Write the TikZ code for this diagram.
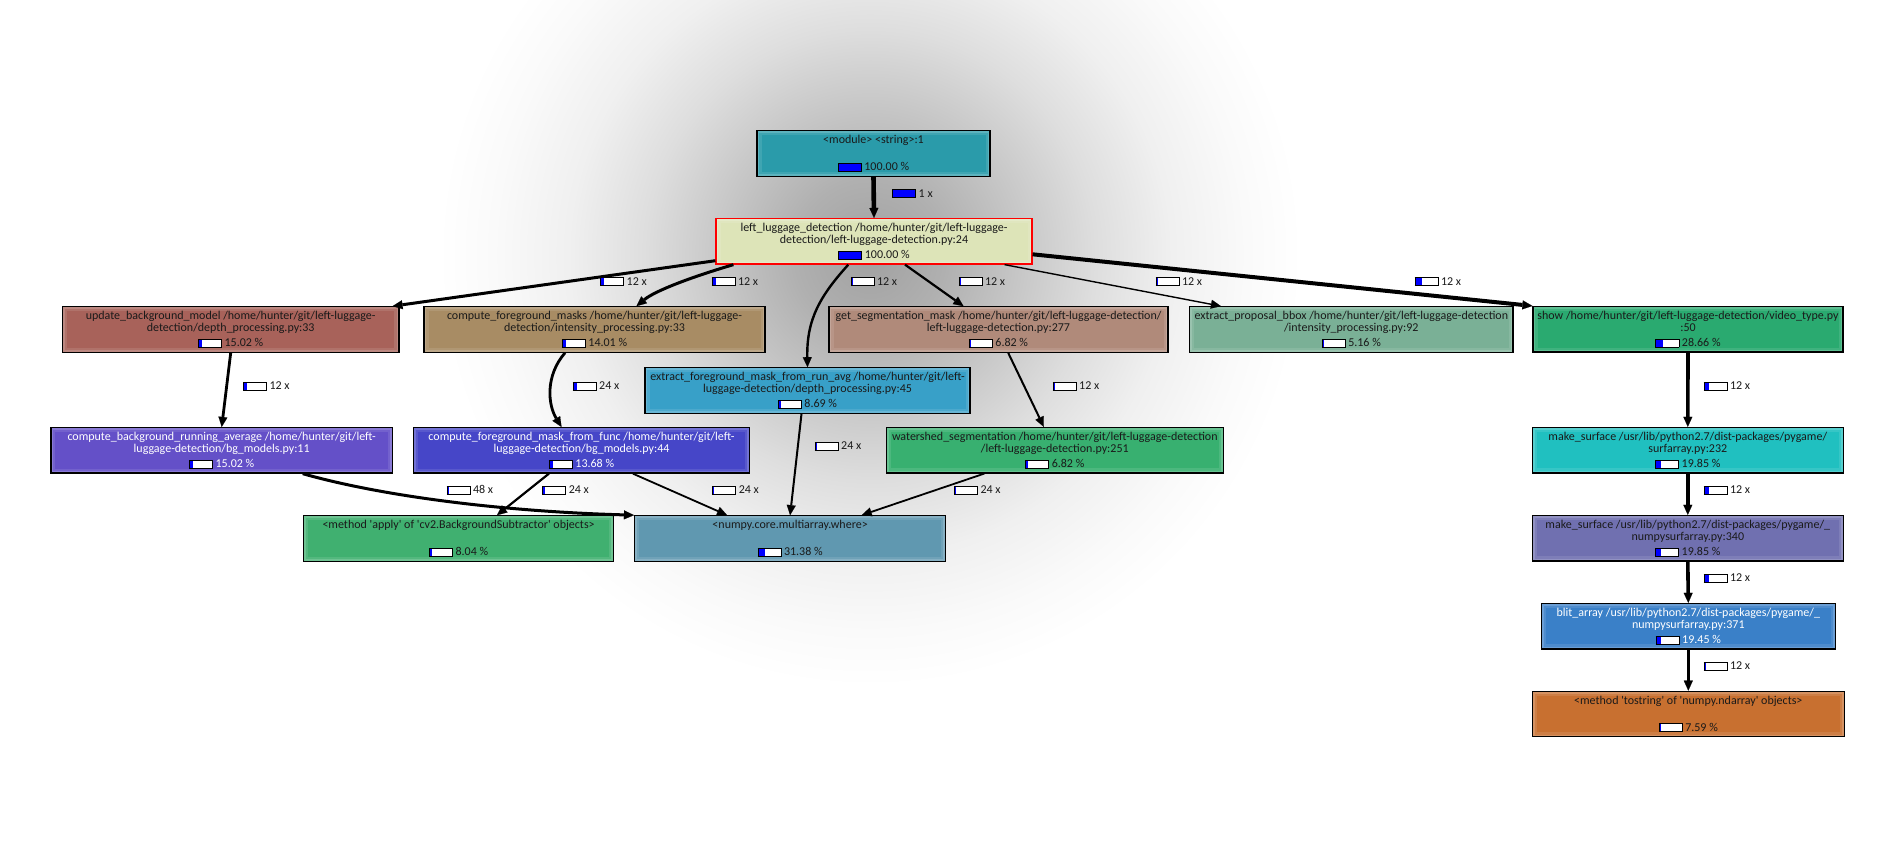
\documentclass[tikz,border=0pt]{standalone}
\usepackage{fontspec}
\setmainfont{Carlito}
\usetikzlibrary{arrows.meta}
\colorlet{vgA}{black!37}
\colorlet{vgB}{black!31}
\colorlet{vgC}{black!22}
\colorlet{vgD}{black!13}
\colorlet{vgE}{black!6}
\colorlet{vgF}{black!2}
\pgfdeclareradialshading{vign}{\pgfpoint{0bp}{0bp}}{color(0bp)=(vgA); color(4bp)=(vgB); color(8bp)=(vgC); color(12bp)=(vgD); color(16bp)=(vgE); color(20bp)=(vgF); color(23bp)=(white); color(50bp)=(white)}
\definecolor{cModule}{HTML}{2A9BAA}
\definecolor{cLLD}{HTML}{DDE4B8}
\definecolor{cUBM}{HTML}{A8625A}
\definecolor{cCFM}{HTML}{A88C64}
\definecolor{cGSM}{HTML}{B08A7A}
\definecolor{cEPB}{HTML}{7AB096}
\definecolor{cShow}{HTML}{2AAA70}
\definecolor{cEFM}{HTML}{38A0C8}
\definecolor{cCBRA}{HTML}{6450C8}
\definecolor{cCFMFF}{HTML}{4646C8}
\definecolor{cWS}{HTML}{38B070}
\definecolor{cMSa}{HTML}{20C0C0}
\definecolor{cApply}{HTML}{40B070}
\definecolor{cWhere}{HTML}{6098B0}
\definecolor{cMSb}{HTML}{7070B0}
\definecolor{cBlit}{HTML}{3A80C8}
\definecolor{cTostr}{HTML}{C87030}
\definecolor{barblue}{HTML}{0000FF}
\definecolor{txt}{HTML}{1A1A1A}
\newcommand\pbar[1]{{\setlength{\fboxsep}{0pt}\setlength{\fboxrule}{0.9pt}\fcolorbox{black}{white}{\makebox[22.2pt][l]{\textcolor{barblue}{\rule{#1pt}{7pt}}}}}}
\newcommand\pct[2]{\pbar{#1}\hspace{2.5pt}#2~\%}
\newcommand\cnt[2]{\pbar{#1}\hspace{2.5pt}#2~x}
\tikzset{
  fn/.style={draw=black, line width=1.2pt, minimum height=45.5pt, inner sep=0pt, align=center,
    font=\fontsize{12}{12.3}\selectfont, text=txt,
    path picture={
      \draw[white, opacity=0.10, line width=9pt] (path picture bounding box.south west) rectangle (path picture bounding box.north east);
      \draw[white, opacity=0.16, line width=4.5pt] (path picture bounding box.south west) rectangle (path picture bounding box.north east);
    }},
  el/.style={anchor=base west, inner sep=0pt, font=\fontsize{12}{12.3}\selectfont, text=txt},
  ed/.style={draw=black, -{Triangle[length=10pt,width=9pt,line width=0.1pt]}},
}
\begin{document}
\begin{tikzpicture}[x=1pt,y=-1pt]
\useasboundingbox (0,0) rectangle (1895,867);
\fill[white] (0,0) rectangle (1895,867);
\path[shading=vign] (870,255) ellipse [x radius=470, y radius=470];
% nodes
\node[fn, fill=cModule, minimum width=233pt] (module) at (873.5,153.5) {<module> <string>:1\\ \strut\\[2.7pt]\pct{22.2}{100.00}};
\node[fn, fill=cLLD, draw=red, minimum width=316pt] (lld) at (874,241.3) {left\_luggage\_detection /home/hunter/git/left-luggage-\\detection/left-luggage-detection.py:24\\[2.7pt]\pct{22.2}{100.00}};
\node[fn, fill=cUBM, minimum width=336.5pt] (ubm) at (230.7,329.5) {update\_background\_model /home/hunter/git/left-luggage-\\detection/depth\_processing.py:33\\[2.7pt]\pct{3.36}{15.02}};
\node[fn, fill=cCFM, minimum width=341pt] (cfm) at (594.5,329.5) {compute\_foreground\_masks /home/hunter/git/left-luggage-\\detection/intensity\_processing.py:33\\[2.7pt]\pct{3.14}{14.01}};
\node[fn, fill=cGSM, minimum width=339pt] (gsm) at (998.5,329.5) {get\_segmentation\_mask /home/hunter/git/left-luggage-detection/\\left-luggage-detection.py:277\\[2.7pt]\pct{1.53}{6.82}};
\node[fn, fill=cEPB, minimum width=323.5pt] (epb) at (1351.3,329.5) {extract\_proposal\_bbox /home/hunter/git/left-luggage-detection\\/intensity\_processing.py:92\\[2.7pt]\pct{1.16}{5.16}};
\node[fn, fill=cShow, minimum width=310pt] (show) at (1688,329.3) {show /home/hunter/git/left-luggage-detection/video\_type.py\\:50\\[2.7pt]\pct{6.42}{28.66}};
\node[fn, fill=cEFM, minimum width=325pt] (efm) at (807.5,390.5) {extract\_foreground\_mask\_from\_run\_avg /home/hunter/git/left-\\luggage-detection/depth\_processing.py:45\\[2.7pt]\pct{1.95}{8.69}};
\node[fn, fill=cCBRA, text=white, minimum width=341.5pt] (cbra) at (221.7,450.3) {compute\_background\_running\_average /home/hunter/git/left-\\luggage-detection/bg\_models.py:11\\[2.7pt]\pct{3.36}{15.02}};
\node[fn, fill=cCFMFF, text=white, minimum width=336pt] (cfmff) at (581.5,450.3) {compute\_foreground\_mask\_from\_func /home/hunter/git/left-\\luggage-detection/bg\_models.py:44\\[2.7pt]\pct{3.06}{13.68}};
\node[fn, fill=cWS, minimum width=336.8pt] (ws) at (1054.8,450.2) {watershed\_segmentation /home/hunter/git/left-luggage-detection\\/left-luggage-detection.py:251\\[2.7pt]\pct{1.53}{6.82}};
\node[fn, fill=cMSa, minimum width=311pt] (msa) at (1687.8,450.2) {make\_surface /usr/lib/python2.7/dist-packages/pygame/\\surfarray.py:232\\[2.7pt]\pct{4.45}{19.85}};
\node[fn, fill=cApply, minimum width=310pt] (apply) at (458.6,538.5) {<method \textquotesingle apply\textquotesingle{} of \textquotesingle cv2.BackgroundSubtractor\textquotesingle{} objects>\\ \strut\\[2.7pt]\pct{1.8}{8.04}};
\node[fn, fill=cWhere, minimum width=311pt] (where) at (790.1,538.5) {<numpy.core.multiarray.where>\\ \strut\\[2.7pt]\pct{7.03}{31.38}};
\node[fn, fill=cMSb, minimum width=311pt] (msb) at (1687.8,538.2) {make\_surface /usr/lib/python2.7/dist-packages/pygame/\_\\numpysurfarray.py:340\\[2.7pt]\pct{4.45}{19.85}};
\node[fn, fill=cBlit, text=white, minimum width=294pt] (blit) at (1688.3,626.2) {blit\_array /usr/lib/python2.7/dist-packages/pygame/\_\\numpysurfarray.py:371\\[2.7pt]\pct{4.36}{19.45}};
\node[fn, fill=cTostr, minimum width=312pt] (tostr) at (1688.3,714) {<method \textquotesingle tostring\textquotesingle{} of \textquotesingle numpy.ndarray\textquotesingle{} objects>\\ \strut\\[2.7pt]\pct{1.7}{7.59}};
% edges
\draw[ed, line width=4.6pt] (module.south) -- (lld.north);
\draw[ed, line width=3pt] ([yshift=-19.4pt]lld.west) -- ([xshift=-7pt]ubm.north east);
\draw[ed, line width=3pt] ([xshift=18pt]lld.south west) .. controls +(-44,13) and +(18,-15) .. ([xshift=42pt]cfm.north);
\draw[ed, line width=2.4pt] ([xshift=-25.7pt]lld.south) .. controls +(-28,31) and +(-1,-48) .. (efm.north);
\draw[ed, line width=2.2pt] ([xshift=31pt]lld.south) -- ([xshift=-35pt]gsm.north);
\draw[ed, line width=1.4pt] ([xshift=-28pt]lld.south east) -- ([xshift=32pt]epb.north west);
\draw[ed, line width=4pt] ([yshift=-13pt]lld.east) -- (show.north west);
\draw[ed, line width=2.8pt] (ubm.south) -- (cbra.north);
\draw[ed, line width=2.8pt] ([xshift=-29.5pt]cfm.south) .. controls +(-20,23) and +(-13.5,-22) .. ([xshift=-20pt]cfmff.north);
\draw[ed, line width=2pt] ([xshift=9.7pt]gsm.south) -- ([xshift=-11pt]ws.north);
\draw[ed, line width=2pt] ([xshift=-6pt]efm.south) -- (where.north);
\draw[ed, line width=3pt] ([xshift=81pt]cbra.south) .. controls +(77.3,22) and +(-134.5,-3.7) .. (where.north west);
\draw[ed, line width=2.2pt] ([xshift=-32.6pt]cfmff.south) -- ([xshift=38.4pt]apply.north);
\draw[ed, line width=1.8pt] ([xshift=51.4pt]cfmff.south) -- ([xshift=-63pt]where.north);
\draw[ed, line width=1.8pt] ([xshift=-70.4pt]ws.south) -- ([xshift=71.6pt]where.north);
\draw[ed, line width=3.6pt] (show.south) -- (msa.north);
\draw[ed, line width=3.6pt] (msa.south) -- (msb.north);
\draw[ed, line width=3.6pt] (msb.south) -- (blit.north);
\draw[ed, line width=2.6pt] (blit.south) -- (tostr.north);
% edge labels
\node[el] (l1) at (892,197) {\cnt{22.2}{1}};
\node[el] (l2) at (600,285.3) {\cnt{3.36}{12}};
\node[el] (l3) at (711.3,285.3) {\cnt{3.14}{12}};
\node[el] (l4) at (850.3,285.3) {\cnt{1.95}{12}};
\node[el] (l5) at (958.3,285.3) {\cnt{1.53}{12}};
\node[el] (l6) at (1155.4,285.3) {\cnt{1.16}{12}};
\node[el] (l7) at (1414.3,285.3) {\cnt{6.42}{12}};
\node[el] (l8) at (242.9,389.8) {\cnt{3.36}{12}};
\node[el] (l9) at (572.5,389.8) {\cnt{3.06}{24}};
\node[el] (l10) at (1052.5,389.8) {\cnt{1.53}{12}};
\node[el] (l11) at (1703.3,389.8) {\cnt{4.45}{12}};
\node[el] (l12) at (814.5,449.5) {\cnt{1.2}{24}};
\node[el] (l13) at (446.4,493.8) {\cnt{1.8}{48}};
\node[el] (l14) at (542.1,493.8) {\cnt{1.5}{24}};
\node[el] (l15) at (712.1,493.8) {\cnt{0.5}{24}};
\node[el] (l16) at (953.8,493.8) {\cnt{0.5}{24}};
\node[el] (l17) at (1703.3,493.8) {\cnt{4.45}{12}};
\node[el] (l18) at (1703.3,581.8) {\cnt{4.36}{12}};
\node[el] (l19) at (1703.3,669.8) {\cnt{1.7}{12}};
\end{tikzpicture}
\end{document}
